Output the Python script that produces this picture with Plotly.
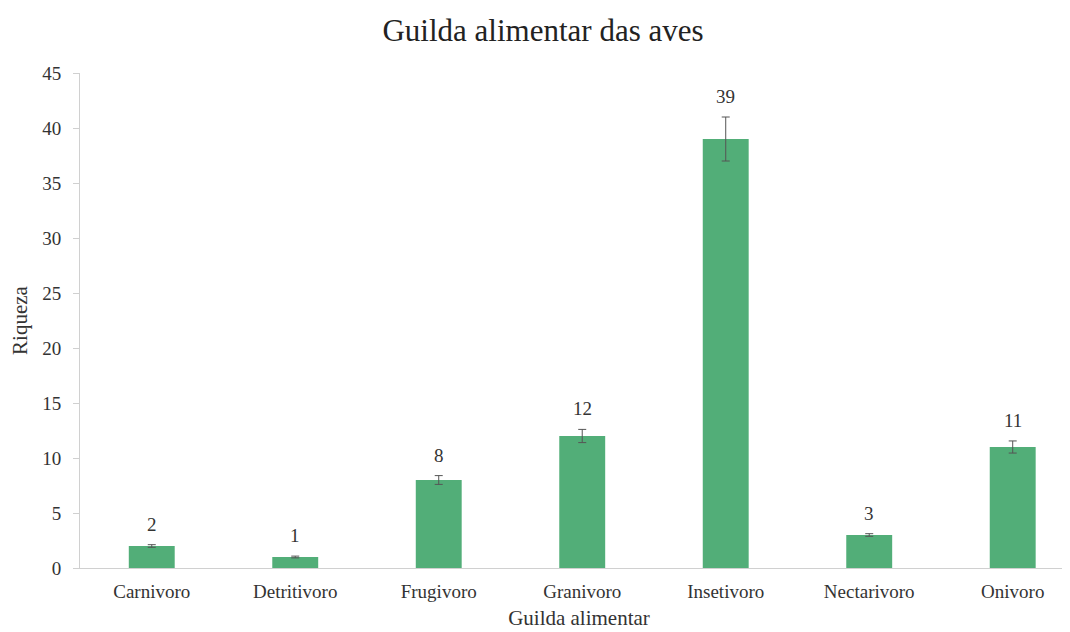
import plotly.graph_objects as go

categories = ["Carnivoro", "Detritivoro", "Frugivoro", "Granivoro", "Insetivoro", "Nectarivoro", "Onivoro"]
riqueza = [2, 1, 8, 12, 39, 3, 11]
erro = [0.12, 0.08, 0.4, 0.6, 2.0, 0.12, 0.55]

font_family = "Liberation Serif, Times New Roman, serif"
txt = "#333333"

fig = go.Figure()
fig.add_trace(go.Bar(
    x=categories, y=riqueza,
    marker=dict(color="#52AE78", line=dict(width=0)),
    error_y=dict(type="data", array=erro, visible=True, color="#555555", thickness=1, width=4),
    width=0.32,
    showlegend=False,
))

for c, v, e in zip(categories, riqueza, erro):
    fig.add_annotation(x=c, y=v + e, text=str(v), showarrow=False,
                       yanchor="bottom", yshift=8,
                       font=dict(family=font_family, size=19, color=txt))

fig.update_layout(
    width=1070, height=632,
    margin=dict(l=72, r=0, t=65, b=72),
    paper_bgcolor="white", plot_bgcolor="white",
    title=dict(text="Guilda alimentar das aves", x=0.5, xanchor="center", y=0.965, yanchor="middle",
               font=dict(family=font_family, size=31, color="#222222")),
    font=dict(family=font_family, size=19, color=txt),
    xaxis=dict(
        title=dict(text="Guilda alimentar", font=dict(family=font_family, size=21, color=txt), standoff=9),
        range=[-0.5, 6.455], showgrid=False, showline=True, linecolor="#d0d0d0", linewidth=1,
        ticks="", ticklabelstandoff=6, tickfont=dict(family=font_family, size=19, color=txt), automargin=False,
    ),
    yaxis=dict(
        title=dict(text="Riqueza", font=dict(family=font_family, size=21, color=txt), standoff=8),
        range=[0, 45], dtick=5, showgrid=False, showline=True, linecolor="#d0d0d0", linewidth=1,
        ticks="outside", ticklen=6, tickcolor="#d0d0d0", zeroline=False, ticklabelstandoff=8,
        tickfont=dict(family=font_family, size=19, color=txt), automargin=False,
    ),
)

fig.write_html("out.html")
